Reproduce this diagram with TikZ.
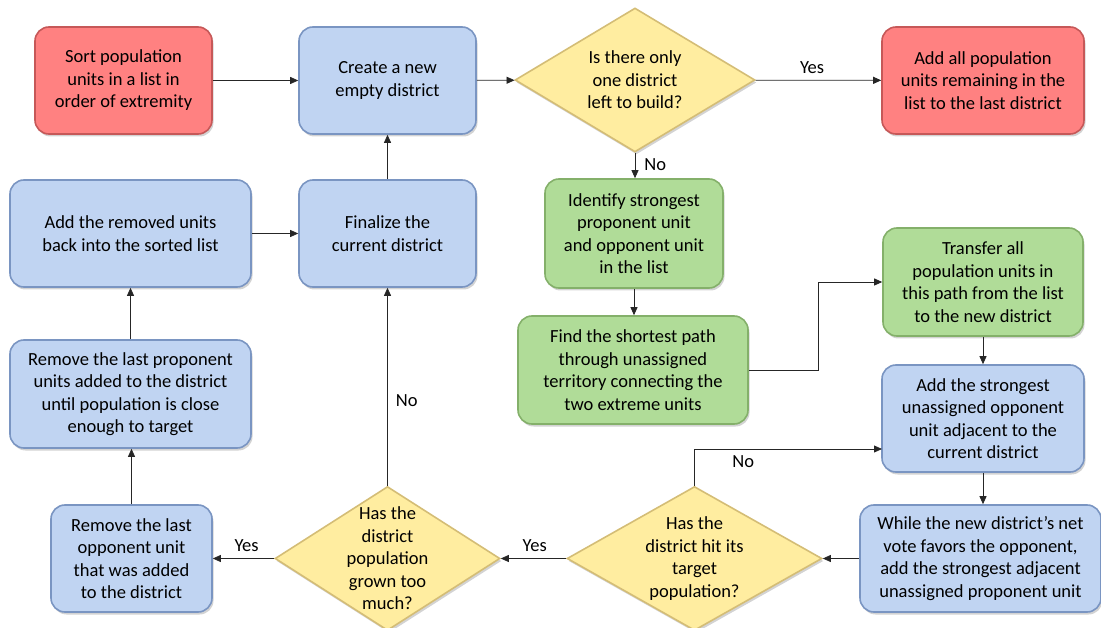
\documentclass[tikz,border=0pt]{standalone}
\usepackage{fontspec}
\setmainfont{Carlito}
\usetikzlibrary{shapes.geometric,arrows.meta,shadows}
\definecolor{redF}{HTML}{FF8181}
\definecolor{redD}{HTML}{C65858}
\definecolor{bluF}{HTML}{C0D4F2}
\definecolor{bluD}{HTML}{7A95C2}
\definecolor{grnF}{HTML}{B0DC98}
\definecolor{grnD}{HTML}{84B06A}
\definecolor{ylwF}{HTML}{FFEDA0}
\definecolor{ylwD}{HTML}{D4BD76}
\begin{document}
\begin{tikzpicture}[x=1pt,y=-1pt,
  font=\fontsize{18.5}{22.5}\selectfont,
  box/.style={rectangle, rounded corners=14pt, line width=1.6pt, align=center, inner sep=0pt,
    drop shadow={shadow xshift=1.5pt,shadow yshift=-2.5pt,opacity=0.35}},
  redbox/.style={box, fill=redF, draw=redD},
  blubox/.style={box, fill=bluF, draw=bluD},
  grnbox/.style={box, fill=grnF, draw=grnD},
  dia/.style={diamond, draw=ylwD, fill=ylwF, line width=1.6pt, inner sep=0pt,
    drop shadow={shadow xshift=1.5pt,shadow yshift=-2.5pt,opacity=0.35}},
  txt/.style={align=center, inner sep=0pt},
  arr/.style={-{Triangle[length=8pt,width=7pt]}, line width=0.8pt, draw=black!85},
  lbl/.style={inner sep=6pt}
]
\useasboundingbox (0,0) rectangle (1101,628);

\node[redbox, minimum width=177pt, minimum height=107pt] (sort) at (123.5,80.5)
  {Sort population\\units in a list in\\order of extremity};
\node[blubox, minimum width=177pt, minimum height=107pt] (create) at (387.5,80.5)
  {Create a new\\empty district};
\node[dia, minimum width=240pt, minimum height=144pt] (q1) at (635,80) {};
\node[txt] (q1t) at (q1) {Is there only\\one district\\left to build?};
\node[redbox, minimum width=202pt, minimum height=107pt] (addall) at (983,80.5)
  {Add all population\\units remaining in the\\list to the last district};

\node[blubox, minimum width=241pt, minimum height=107pt] (addback) at (130.5,233.5)
  {Add the removed units\\back into the sorted list};
\node[blubox, minimum width=177pt, minimum height=107pt] (finalize) at (387.5,233.5)
  {Finalize the\\current district};
\node[grnbox, minimum width=178pt, minimum height=109pt] (identify) at (634,233.5)
  {Identify strongest\\proponent unit\\and opponent unit\\in the list};
\node[grnbox, minimum width=200pt, minimum height=108pt] (transfer) at (983,282)
  {Transfer all\\population units in\\this path from the list\\to the new district};
\node[grnbox, minimum width=230pt, minimum height=108pt] (findpath) at (633,370)
  {Find the shortest path\\through unassigned\\territory connecting the\\two extreme units};
\node[blubox, minimum width=241pt, minimum height=108pt] (removeprop) at (130.5,394)
  {Remove the last proponent\\units added to the district\\until population is close\\enough to target};
\node[blubox, minimum width=202pt, minimum height=107pt] (addopp) at (983,418.5)
  {Add the strongest\\unassigned opponent\\unit adjacent to the\\current district};

\node[blubox, minimum width=161pt, minimum height=107pt] (removeopp) at (131.5,558.5)
  {Remove the last\\opponent unit\\that was added\\to the district};
\node[dia, minimum width=225pt, minimum height=144pt] (q3) at (387.5,558.5) {};
\node[txt] (q3t) at (q3) {Has the\\district\\population\\grown too\\much?};
\node[dia, minimum width=255pt, minimum height=144pt] (q2) at (694.5,558.5) {};
\node[txt] (q2t) at (q2) {Has the\\district hit its\\target\\population?};
\node[blubox, minimum width=241pt, minimum height=107pt] (while) at (980.5,558.5)
  {While the new district’s net\\vote favors the opponent,\\add the strongest adjacent\\unassigned proponent unit};

\coordinate (noin) at (882,449);

\draw[arr] (sort) -- (create);
\draw[arr] (create) -- (q1);
\draw[arr] (q1) -- node[above,lbl,pos=0.45]{Yes} (addall);
\draw[arr] (q1.south) -- node[right,lbl,pos=0.45,inner sep=9pt]{No} (q1.south |- identify.north);
\draw[arr] (identify.south) -- (identify.south |- findpath.north);
\draw[arr] (findpath.east) -- ++(70,0) |- (transfer.west);
\draw[arr] (transfer) -- (addopp);
\draw[arr] (addopp.south) -- (addopp.south |- while.north);
\draw[arr] (while) -- (q2);
\draw[arr] (q2) -- node[above,lbl,pos=0.48]{Yes} (q3);
\draw[arr] (q2.north) |- node[below,lbl,pos=0.63]{No} (noin);
\draw[arr] (q3) -- node[above,lbl,pos=0.45]{Yes} (removeopp);
\draw[arr] (q3.north) -- node[right,lbl,pos=0.43,inner sep=8pt]{No} (finalize.south);
\draw[arr] (removeopp.north) -- (removeopp.north |- removeprop.south);
\draw[arr] (removeprop) -- (addback);
\draw[arr] (addback) -- (finalize);
\draw[arr] (finalize) -- (create);
\end{tikzpicture}
\end{document}
